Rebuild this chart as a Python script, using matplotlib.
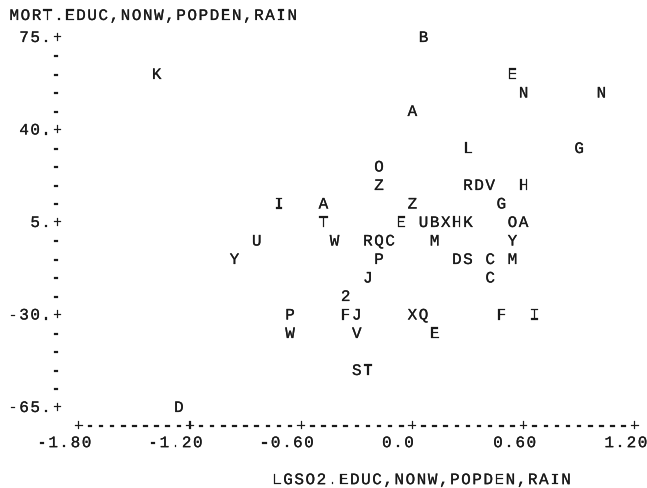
import matplotlib
matplotlib.use("Agg")
import matplotlib.pyplot as plt
import matplotlib.patheffects as pe

# ---- data ----
point_symbols = ["B",
                 "K", "E",
                 "N", "N",
                 "A",
                 "L", "G",
                 "O",
                 "Z", "R", "D", "V", "H",
                 "I", "A", "Z", "G",
                 "T", "E", "U", "B", "X", "H", "K", "O", "A",
                 "U", "W", "R", "Q", "C", "M", "Y",
                 "Y", "P", "D", "S", "C", "M",
                 "J", "C",
                 "2",
                 "P", "F", "J", "X", "Q", "F", "I",
                 "W", "V", "E",
                 "S", "T",
                 "D"]
lgso2_resid = [0.06,
               -1.38, 0.54,
               0.60, 1.02,
               0.00,
               0.30, 0.90,
               -0.18,
               -0.18, 0.30, 0.36, 0.42, 0.60,
               -0.72, -0.48, 0.00, 0.48,
               -0.48, -0.06, 0.06, 0.12, 0.18, 0.24, 0.30, 0.54, 0.60,
               -0.84, -0.42, -0.24, -0.18, -0.12, 0.12, 0.54,
               -0.96, -0.18, 0.24, 0.30, 0.42, 0.54,
               -0.24, 0.42,
               -0.36,
               -0.66, -0.36, -0.30, 0.00, 0.06, 0.48, 0.66,
               -0.66, -0.30, 0.12,
               -0.30, -0.24,
               -1.26]
mort_resid = [75,
              61, 61,
              54, 54,
              47,
              33, 33,
              26,
              19, 19, 19, 19, 19,
              12, 12, 12, 12,
              5, 5, 5, 5, 5, 5, 5, 5, 5,
              -2, -2, -2, -2, -2, -2, -2,
              -9, -9, -9, -9, -9, -9,
              -16, -16,
              -23,
              -30, -30, -30, -30, -30, -30, -30,
              -37, -37, -37,
              -51, -51,
              -65]

x_ticks = [-1.80, -1.20, -0.60, 0.0, 0.60, 1.20]
x_tick_labels = ["-1.80", "-1.20", "-0.60", "0.0", "0.60", "1.20"]
x_tick_anchor = [3, 3, 3, 2, 2, 2]   # which character sits under the '+'
y_ticks = [75, 40, 5, -30, -65]
y_tick_labels = ["75.", "40.", "5.", "-30.", "-65."]
y_title = "MORT.EDUC,NONW,POPDEN,RAIN"
x_title = "LGSO2.EDUC,NONW,POPDEN,RAIN"

# ---- printer grid geometry ----
W, H = 647, 489
X0_PX, CW_PX = 78.8, 11.12      # pixel of x=-1.80 and char width
Y0_PX, RH_PX = 37.0, 18.5       # pixel of y=75 and line height
DX, DY = 0.06, 7.0              # data units per char / per line
XMIN, YTOP = -1.80, 75.0

fig = plt.figure(figsize=(W / 100, H / 100), dpi=100)
ax = fig.add_axes([0, 0, 1, 1])
ax.set_xlim(XMIN - X0_PX / CW_PX * DX, XMIN + (W - X0_PX) / CW_PX * DX)
ax.set_ylim(YTOP - (H - Y0_PX) / RH_PX * DY, YTOP + Y0_PX / RH_PX * DY)
ax.axis("off")

INK = "#1a1a1a"
FONT = dict(family=["Liberation Mono", "DejaVu Sans Mono"], fontsize=11.5,
            color=INK, ha="center", va="center_baseline",
            path_effects=[pe.withStroke(linewidth=0.15, foreground=INK)])


def put(s, col, row, **extra):
    for i, ch in enumerate(s):
        if ch != " ":
            kw = dict(FONT)
            kw.update(extra)
            ax.text(XMIN + DX * (col + i), YTOP - DY * row, ch, **kw)


# data symbols
for s, x, y in zip(point_symbols, lgso2_resid, mort_resid):
    ax.text(x, y, s, **FONT)

# vertical axis
YAX_COL = -1.92
n_rows = int(round((y_ticks[0] - y_ticks[-1]) / DY))
for r in range(n_rows + 1):
    yv = YTOP - DY * r
    if any(abs(yv - t) < 1e-6 for t in y_ticks):
        put("+", YAX_COL, r)
    else:
        put("-", YAX_COL - 0.12, r, fontweight="bold")
for t, lab in zip(y_ticks, y_tick_labels):
    r = (YTOP - t) / DY
    put(lab, YAX_COL - len(lab), r)

# horizontal axis
XAX_ROW = 21.0
n_cols = int(round((x_ticks[-1] - x_ticks[0]) / DX))
for c in range(n_cols + 1):
    xv = XMIN + DX * c
    if any(abs(xv - t) < 1e-6 for t in x_ticks):
        put("+", c, XAX_ROW)
    else:
        put("-", c, XAX_ROW, fontweight="bold")
for t, lab, a in zip(x_ticks, x_tick_labels, x_tick_anchor):
    c = (t - XMIN) / DX
    put(lab, c - a - 0.3, 21.9)

# titles
put(y_title, -5.8, -1.19)
put(x_title, 17.82, 23.9)

fig.savefig("out.png", dpi=100, facecolor="white")
